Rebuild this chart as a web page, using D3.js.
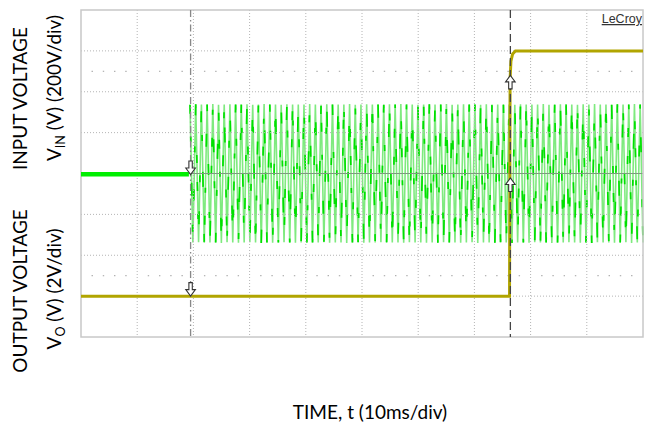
<!DOCTYPE html>
<html>
<head>
<meta charset="utf-8">
<script src="https://cdn.jsdelivr.net/npm/d3@7"></script>
<style>
  body { margin: 0; background: #fff; }
  svg { display: block; }
  text { font-family: Lato, "Open Sans", sans-serif; fill: #000; }
</style>
</head>
<body>
<figure id="scope" style="margin:0"></figure>
<script>
// time axis (10 ms/div)
var timeTicks = [0, 10, 20, 30, 40, 50, 60, 70, 80, 90, 100];
// input channel grid (200 V/div)
var vinTicks = [-800, -600, -400, -200, 0, 200, 400, 600, 800];
// rows of small scope ticks, on the input scale
var tickRows = [500, -500];

// input voltage: flat before the AC is applied
var vinFlatTime = [0, 19.2];
var vinFlatValue = [-4, -4];
// AC part, one high and one low per displayed cycle
var vinStart = 19.4, vinEnd = 100;
var vinHigh = [336,339,337,338,340,336,338,339,337,338,
               339,336,338,340,337,338,336,339,338,337,
               338,340,337,336,339,338,337,338,340,336,
               338,339,337,338,336,339,338,340,337,338,
               336,338,339,337,338,340,336,338,339,337,
               338,336,339,338,337,340,338,336,339,338,
               337,338,340,336,338,339,337,338,336,339,
               338,340,337,338,336,339,338,337,340,338];
var vinLow = [-338,-336,-339,-337,-338,-340,-336,-338,-339,-337,
              -336,-338,-340,-337,-339,-338,-336,-337,-339,-338,
              -340,-337,-338,-336,-339,-338,-337,-340,-338,-336,
              -339,-337,-338,-336,-340,-338,-337,-339,-336,-338,
              -337,-339,-338,-340,-336,-338,-337,-339,-338,-336,
              -340,-338,-337,-339,-336,-338,-340,-337,-338,-339,
              -336,-338,-337,-340,-339,-338,-336,-337,-339,-338,
              -340,-336,-338,-337,-339,-338,-336,-340,-337,-338];

// output voltage (2 V/div)
var voutTime = [0, 76.25, 76.35, 76.5, 76.8, 77.3, 100];
var voutValue = [0, 0, 10.6, 11.5, 11.85, 12.0, 12.0];

// cursors and their markers
var cursorTimes = [19.5, 76.4];
var markerTime = [19.5, 19.5, 76.4, 76.4];
var markerChannel = ["in", "out", "in", "out"];
var markerValue = [-5, 0, -22, 10.8];
var markerDir = ["down", "down", "up", "up"];

var margin = {top: 10, right: 5, bottom: 91, left: 81},
  width = 648 - margin.left - margin.right,
  height = 428 - margin.top - margin.bottom;

var root = d3.select("figure#scope")
  .append("svg")
  .attr("width", 648)
  .attr("height", 428);

var svg = root.append("g")
  .attr("transform", "translate(" + margin.left + "," + margin.top + ")");

var x = d3.scaleLinear().domain([0, 100]).range([0, width]);
var yIn = d3.scaleLinear().domain([-800, 800]).range([height, 0]);
var yOut = d3.scaleLinear().domain([-2, 14]).range([height, 0]);

// input AC trace as a zigzag of highs and lows
var halfT = d3.scaleLinear()
  .domain([0, vinHigh.length * 2 - 1])
  .range([vinStart, vinEnd]);
var acPts = [];
vinHigh.forEach(function(h, i) {
  acPts.push([halfT(2 * i), h]);
  acPts.push([halfT(2 * i + 1), vinLow[i]]);
});
var inLine = d3.line()
  .x(function(d) { return x(d[0]); })
  .y(function(d) { return yIn(d[1]); });

svg.append("path")
  .attr("d", inLine(acPts))
  .attr("fill", "none")
  .attr("stroke", "#7fea7f")
  .attr("stroke-width", 1.6);
// brighter fragments, irregular so no beat pattern shows
svg.append("path")
  .attr("d", inLine(acPts))
  .attr("fill", "none")
  .attr("stroke", "#00e000")
  .attr("stroke-width", 1.7)
  .attr("stroke-dasharray", "9 23 5 41 13 29 7 53 11 37 6 31 15 47 8 19");

// grid
svg.append("g").selectAll("line")
  .data(timeTicks.slice(1, -1))
  .enter().append("line")
  .attr("x1", function(d) { return x(d); })
  .attr("x2", function(d) { return x(d); })
  .attr("y1", 0).attr("y2", height)
  .attr("stroke", "#b4b4b4")
  .attr("stroke-width", 1)
  .attr("stroke-dasharray", "1 2");

svg.append("g").selectAll("line")
  .data(vinTicks.slice(1, -1))
  .enter().append("line")
  .attr("x1", 0).attr("x2", width)
  .attr("y1", function(d) { return yIn(d); })
  .attr("y2", function(d) { return yIn(d); })
  .attr("stroke", function(d) { return d === 0 ? "#7f9a7f" : "#b4b4b4"; })
  .attr("stroke-width", function(d) { return d === 0 ? 1.2 : 1; })
  .attr("stroke-dasharray", function(d) { return d === 0 ? null : "1 2"; });

// small tick rows every 2 ms
var minor = x.ticks(50).filter(function(t) { return t % 10 !== 0; });
tickRows.forEach(function(v) {
  svg.append("g").selectAll("line")
    .data(minor)
    .enter().append("line")
    .attr("x1", function(d) { return x(d) - 0.7; })
    .attr("x2", function(d) { return x(d) + 0.7; })
    .attr("y1", yIn(v)).attr("y2", yIn(v))
    .attr("stroke", "#b0b0b0")
    .attr("stroke-width", 1.2);
});

// frame
svg.append("rect")
  .attr("width", width).attr("height", height)
  .attr("fill", "none")
  .attr("stroke", "#c8c8c8")
  .attr("stroke-width", 1.5);

// flat input before AC
svg.append("line")
  .attr("x1", x(vinFlatTime[0])).attr("x2", x(vinFlatTime[1]))
  .attr("y1", yIn(vinFlatValue[0])).attr("y2", yIn(vinFlatValue[1]))
  .attr("stroke", "#00ee00")
  .attr("stroke-width", 4.5);

// output trace
var outLine = d3.line()
  .x(function(d, i) { return x(voutTime[i]); })
  .y(function(d) { return yOut(d); });
svg.append("path")
  .attr("d", outLine(voutValue))
  .attr("fill", "none")
  .attr("stroke", "#b1a500")
  .attr("stroke-width", 3);

// cursors
svg.append("line")
  .attr("x1", x(cursorTimes[0])).attr("x2", x(cursorTimes[0]))
  .attr("y1", 0).attr("y2", height)
  .attr("stroke", "#888")
  .attr("stroke-width", 1.3)
  .attr("stroke-dasharray", "7 3 1.5 3");
svg.append("line")
  .attr("x1", x(cursorTimes[1])).attr("x2", x(cursorTimes[1]))
  .attr("y1", 0).attr("y2", height)
  .attr("stroke", "#444")
  .attr("stroke-width", 1.3)
  .attr("stroke-dasharray", "8 4");

// cursor markers (hollow arrows, tip at the level)
var arrow = "M0,0 L-4.8,-6.5 L-1.7,-6.5 L-1.7,-13.5 L1.7,-13.5 L1.7,-6.5 L4.8,-6.5 Z";
svg.append("g").selectAll("path")
  .data(markerTime)
  .enter().append("path")
  .attr("d", arrow)
  .attr("transform", function(d, i) {
    var yy = markerChannel[i] === "in" ? yIn(markerValue[i]) : yOut(markerValue[i]);
    return "translate(" + x(d) + "," + yy + ")" + (markerDir[i] === "up" ? " scale(1,-1)" : "");
  })
  .attr("fill", "#fff")
  .attr("stroke", "#333")
  .attr("stroke-width", 1.1);

// LeCroy tag
root.append("text")
  .attr("x", 642).attr("y", 23)
  .attr("text-anchor", "end")
  .style("font-family", "'Liberation Sans', Arial, sans-serif")
  .style("font-size", "12.5px")
  .style("fill", "#333")
  .style("text-decoration", "underline")
  .text("LeCroy");

// axis titles
var fs = 19;
function vlabel(xx, yy, parts) {
  var t = root.append("text")
    .attr("transform", "translate(" + xx + "," + yy + ") rotate(-90)")
    .attr("text-anchor", "middle")
    .style("font-size", fs + "px");
  parts.forEach(function(p) {
    var s = t.append("tspan").text(p[0]);
    if (p[1]) s.attr("dy", p[1]);
    if (p[2]) s.style("font-size", p[2]);
  });
}
vlabel(27, 98.5, [["INPUT VOLTAGE"]]);
vlabel(61, 88, [["V"], ["IN", 4, "12.5px"], [" (V) (200V/div)", -4]]);
vlabel(27, 291, [["OUTPUT VOLTAGE"]]);
vlabel(61, 289, [["V"], ["O", 4, "12.5px"], [" (V) (2V/div)", -4]]);

root.append("text")
  .attr("x", 370).attr("y", 419)
  .attr("text-anchor", "middle")
  .style("font-size", fs + "px")
  .text("TIME, t (10ms/div)");
</script>
</body>
</html>
